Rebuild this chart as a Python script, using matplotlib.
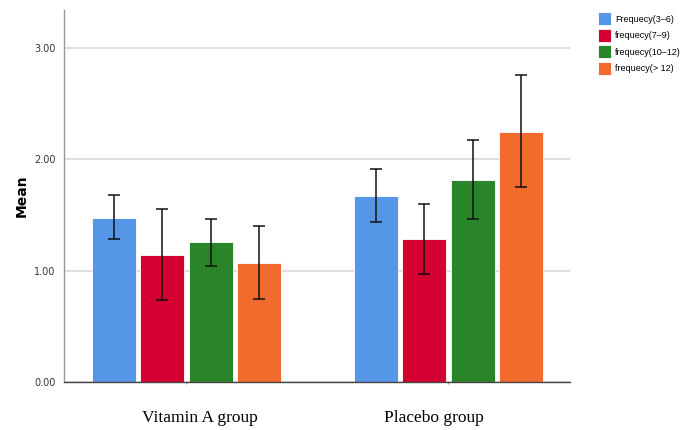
import numpy as np
import matplotlib.pyplot as plt

groups = ["Vitamin A group", "Placebo group"]
series = ["Frequecy(3–6)", "frequecy(7–9)", "frequecy(10–12)", "frequecy(> 12)"]
colors = ["#5596e6", "#d50032", "#2a8429", "#f26a2c"]

# means and 95% CI bounds per series, [Vitamin A, Placebo]
means = [[1.47, 1.67], [1.14, 1.28], [1.255, 1.815], [1.07, 2.245]]
ci_low = [[1.28, 1.435], [0.74, 0.97], [1.045, 1.465], [0.745, 1.745]]
ci_high = [[1.68, 1.915], [1.555, 1.60], [1.46, 2.17], [1.40, 2.75]]
yticks = [0.0, 1.0, 2.0, 3.0]

fig = plt.figure(figsize=(6.8, 4.3), dpi=100)
ax = fig.add_axes([0.094, 0.1116, 0.744, 0.866])

x = np.arange(len(groups))
pitch = 0.185
width = 0.168
for i, name in enumerate(series):
    pos = x + (i - 1.5) * pitch
    m = np.array(means[i])
    lo = m - np.array(ci_low[i])
    hi = np.array(ci_high[i]) - m
    ax.bar(pos, m, width, color=colors[i], edgecolor="white", linewidth=0.6,
           label=name, zorder=2)
    ax.errorbar(pos, m, yerr=[lo, hi], fmt="none", ecolor="#111111",
                elinewidth=1.1, capsize=4.3, capthick=1.1, zorder=3)

ax.set_xlim(-0.4676, 1.4637)
ax.set_ylim(0, 3.34)
ax.set_yticks(yticks)
ax.set_yticklabels([f"{v:.2f}" for v in yticks], fontsize=7, color="#333333")
ax.tick_params(axis="y", length=0, pad=6)
ax.set_xticks(x)
ax.set_xticklabels([""] * len(groups))
ax.tick_params(axis="x", length=1.5, color="#999999")

# group labels sit slightly off the group centres, as in the original
label_shift = [0.05, -0.057]
for xi, g, dx in zip(x, groups, label_shift):
    ax.text(xi + dx, -0.323, g, ha="center", va="center", fontsize=12.5,
            family="Liberation Serif", clip_on=False)

ax.grid(axis="y", color="#d9d9d9", linewidth=1.2, zorder=0)
ax.set_axisbelow(True)
for s in ["top", "right"]:
    ax.spines[s].set_visible(False)
ax.spines["left"].set_color("#999999")
ax.spines["left"].set_linewidth(1.0)
ax.spines["bottom"].set_color("#444444")
ax.spines["bottom"].set_linewidth(1.0)

ax.set_ylabel("Mean", fontsize=10, fontweight="bold", labelpad=4)

fig.legend(loc="upper left", bbox_to_anchor=(0.879, 0.971), frameon=False,
           handlelength=1.44, handleheight=1.84, handletextpad=0.45,
           labelspacing=0.37, borderaxespad=0, borderpad=0,
           prop={"family": "Liberation Sans", "size": 6.5})

fig.savefig("out.png", dpi=100)
